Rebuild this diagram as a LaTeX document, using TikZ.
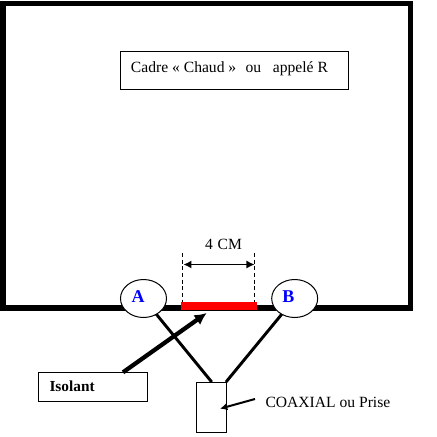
\documentclass[tikz,border=0pt]{standalone}
\usepackage{fontspec}
\setmainfont{Liberation Serif}
\usetikzlibrary{arrows.meta,shapes.geometric}
\tikzset{
  px/.style={x=0.75pt,y=-0.75pt},
  framebar/.style={line width=4.2pt,line join=miter},
  labelbox/.style={draw=black,line width=0.75pt,fill=white,inner sep=0pt,outer sep=0pt},
  terminal/.style={draw=black,line width=0.75pt,fill=white,ellipse,minimum width=34.5pt,minimum height=28.5pt,inner sep=0pt,outer sep=0pt},
  termtxt/.style={text=blue,font=\fontsize{13.5}{13.5}\selectfont\bfseries,inner sep=0pt,outer sep=0pt,anchor=base},
  lead/.style={line width=2.2pt,draw=black},
  bigarrow/.style={line width=3.2pt,draw=black,-{Latex[length=9pt,width=9pt]}},
  smallarrow/.style={line width=1.5pt,draw=black,-{Latex[length=5.5pt,width=5.5pt]}},
  dim/.style={line width=0.9pt,draw=black,{Latex[length=6pt,width=6pt]}-{Latex[length=6pt,width=6pt]}},
  guide/.style={line width=0.75pt,draw=black,dash pattern=on 3pt off 2pt},
  txt/.style={font=\fontsize{11.7}{11.7}\selectfont,inner sep=0pt,outer sep=0pt,anchor=base west}
}
\begin{document}
\begin{tikzpicture}[px]
\useasboundingbox (0,0) rectangle (437,437);
\fill[white] (0,0) rectangle (437,437);
% frame
\draw[framebar] (3,308) -- (3,3.5) -- (410.5,3.5) -- (410.5,308) -- cycle;
% red insulator
\node[fill=red,inner sep=0pt,minimum width=57pt,minimum height=6.2pt,anchor=center] (red) at (219,306) {};
% guides
\coordinate (g1t) at (183,253); \coordinate (g1b) at (183,302);
\coordinate (g2t) at (254.5,253); \coordinate (g2b) at (254.5,302);
\draw[guide] (g1t) -- (g1b);
\draw[guide] (g2t) -- (g2b);
\coordinate (d1) at (183.5,264.5); \coordinate (d2) at (254.5,264.5);
\draw[dim] (d1) -- (d2);
\node[txt,anchor=base] (cm) at (223.5,249) {4\hspace{0.3em}CM};
% coax box
\node[labelbox,minimum width=22.8pt,minimum height=37.5pt] (coax) at (211.5,407) {};
\coordinate (ca) at (211.7,382);
\coordinate (cb) at (226,382);
% leads
\node[terminal] (A) at (143.5,298.5) {};
\node[terminal] (B) at (294.7,298.5) {};
\node[termtxt] (Atxt) at (138,302) {A};
\node[termtxt] (Btxt) at (288.5,302) {B};
\draw[lead] (A) -- (ca);
\draw[lead] (B) -- (cb);
% labels
\node[labelbox,minimum width=171.5pt,minimum height=29pt] (cadre) at (234.4,70.5) {};
\node[txt] (cadretxt) at (131,72.7) {Cadre « Chaud »\hspace{0.6em}ou\hspace{0.75em}appelé R};
\node[labelbox,minimum width=82pt,minimum height=22pt] (iso) at (92.8,387) {};
\node[txt,font=\fontsize{11.5}{11.5}\selectfont\bfseries] (isotxt) at (49.5,391.7) {Isolant};
\node[txt] (coaxtxt) at (265.5,407) {COAXIAL ou Prise};
% arrows
\coordinate (isoa) at (123,372.3);
\coordinate (isob) at (206.7,313);
\draw[bigarrow] (isoa) -- (isob);
\coordinate (sa) at (255,399);
\coordinate (sb) at (220,408.7);
\draw[smallarrow] (sa) -- (sb);
\end{tikzpicture}
\end{document}
